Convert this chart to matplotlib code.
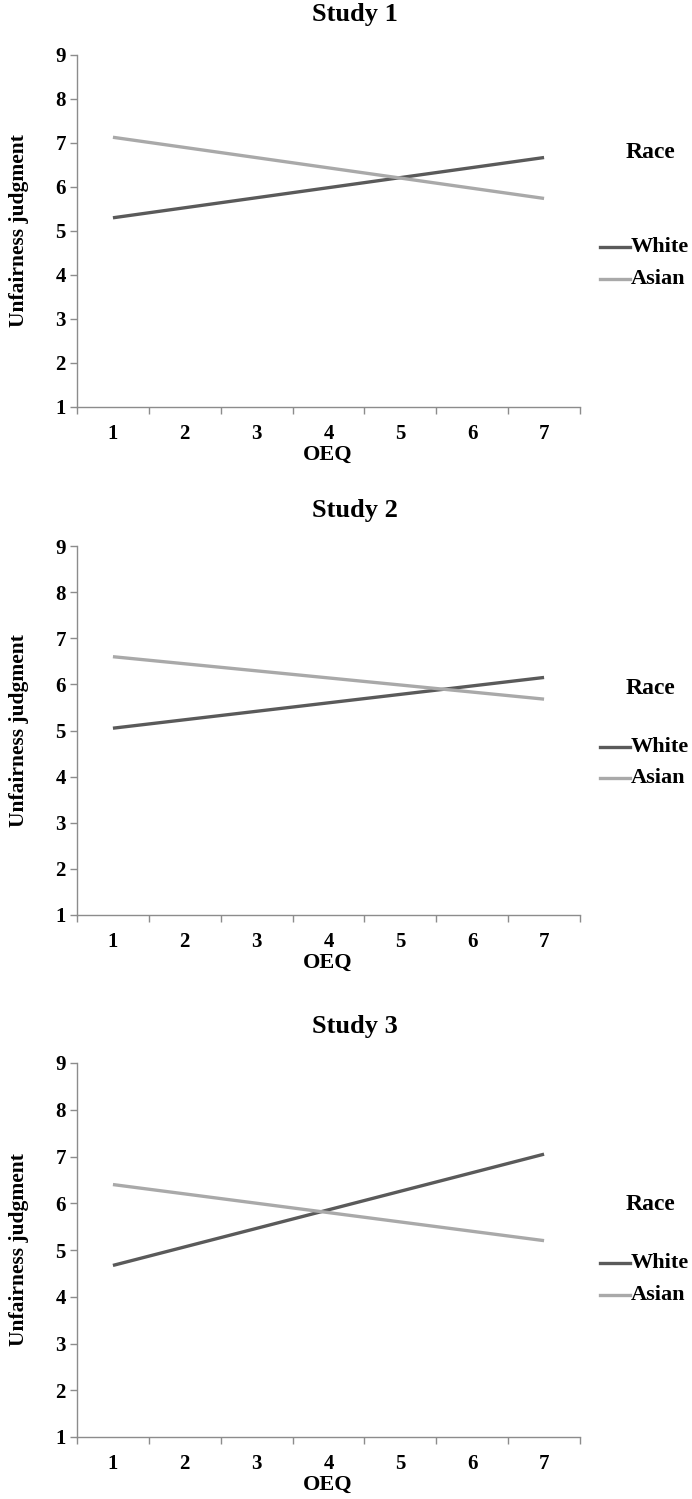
import matplotlib
matplotlib.use("Agg")
import matplotlib.pyplot as plt
import numpy as np

plt.rcParams['font.family'] = ['Liberation Serif', 'DejaVu Serif']
plt.rcParams['font.weight'] = 'bold'

# data (simple slopes at OEQ = 1 and 7)
oeq = [1, 7]
studies = ["Study 1", "Study 2", "Study 3"]
white = [[5.30, 6.67], [5.05, 6.15], [4.67, 7.05]]
asian = [[7.13, 5.74], [6.60, 5.68], [6.40, 5.20]]
xticks = [1, 2, 3, 4, 5, 6, 7]
yticks = [1, 2, 3, 4, 5, 6, 7, 8, 9]

W, H = 692, 1499
fig = plt.figure(figsize=(W / 100, H / 100), dpi=100)

# panel boxes in pixels: (top of y=9, y=1 line), plus legend rows
panels = [
    dict(top=55, bot=407, title=15, race=152, white=247, asian=279),
    dict(top=546, bot=915, title=511, race=688, white=747, asian=778),
    dict(top=1063, bot=1437, title=1027, race=1205, white=1263, asian=1295),
]
left, right = 77, 580
axc = '#8c8c8c'
cw, ca = '#5a5a5a', '#a9a9a9'

for i, p in enumerate(panels):
    ax = fig.add_axes([left / W, 1 - p['bot'] / H, (right - left) / W, (p['bot'] - p['top']) / H])
    ax.plot(oeq, white[i], color=cw, lw=2.4, solid_capstyle='butt', label='White')
    ax.plot(oeq, asian[i], color=ca, lw=2.4, solid_capstyle='butt', label='Asian')
    ax.set_xlim(0.5, 7.5)
    ax.set_ylim(1, 9)
    ax.set_yticks(yticks)
    ax.set_xticks(np.arange(0.5, 8, 1))
    ax.set_xticklabels([])
    ax.set_xticks(xticks, minor=True)
    ax.set_xticklabels([str(t) for t in xticks], minor=True, fontsize=15, fontweight='bold')
    ax.tick_params(axis='x', which='major', length=5, color=axc, width=1, direction='out')
    ax.tick_params(axis='x', which='minor', length=0, pad=12)
    ax.tick_params(axis='y', length=5, color=axc, width=1, direction='out', labelsize=15, pad=3)
    for lab in ax.get_yticklabels():
        lab.set_fontweight('bold')
    for s in ['top', 'right']:
        ax.spines[s].set_visible(False)
    for s in ['left', 'bottom']:
        ax.spines[s].set_color(axc)
        ax.spines[s].set_linewidth(1)
    ax.set_ylabel('Unfairness judgment', fontsize=15.5, fontweight='bold')
    ax.yaxis.set_label_coords(-0.096, 0.5)
    fig.text(328 / W, 1 - (p['bot'] + 48) / H, 'OEQ', ha='center', va='center', fontsize=16, fontweight='bold')
    fig.text(355 / W, 1 - p['title'] / H, studies[i], ha='center', va='center', fontsize=19, fontweight='bold')

    fig.text(650 / W, 1 - p['race'] / H, 'Race', ha='center', va='center', fontsize=17, fontweight='bold')
    fig.lines.append(plt.Line2D([600 / W, 630 / W], [1 - p['white'] / H] * 2, color=cw, lw=2.4, transform=fig.transFigure))
    fig.lines.append(plt.Line2D([600 / W, 630 / W], [1 - p['asian'] / H] * 2, color=ca, lw=2.4, transform=fig.transFigure))
    fig.text(631 / W, 1 - p['white'] / H, 'White', ha='left', va='center', fontsize=16, fontweight='bold')
    fig.text(631 / W, 1 - p['asian'] / H, 'Asian', ha='left', va='center', fontsize=16, fontweight='bold')

fig.savefig('out.png', dpi=100, facecolor='white')
